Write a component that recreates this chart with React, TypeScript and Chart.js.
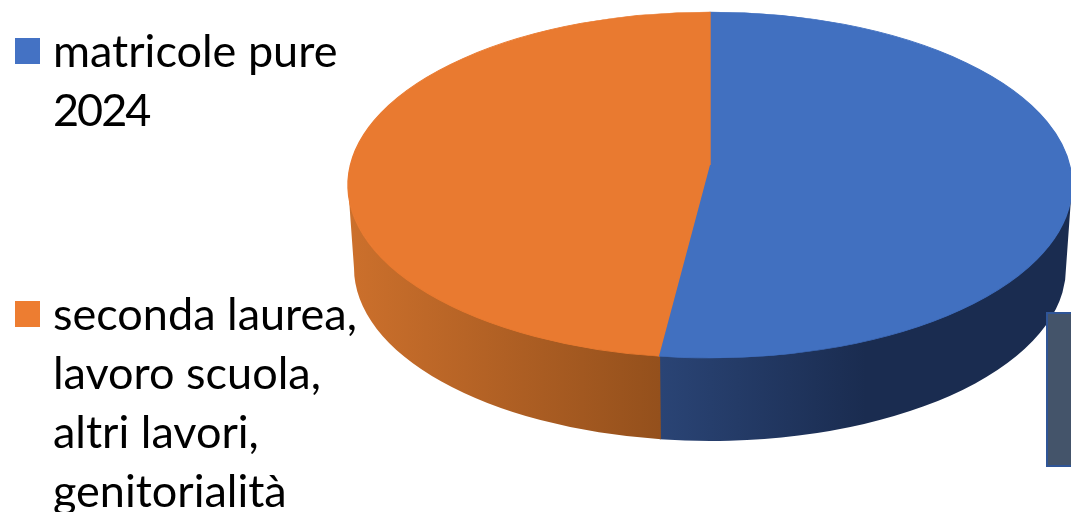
import React, { useEffect, useRef } from "react";
import { Chart, registerables } from "chart.js";

Chart.register(...registerables);

const categories = ["matricole pure 2024", "seconda laurea, lavoro scuola, altri lavori, genitorialità"];
const legendLines = [
  ["matricole pure", "2024"],
  ["seconda laurea,", "lavoro scuola,", "altri lavori,", "genitorialità"],
];
const values = [52.25, 47.75];
const topColors = ["#4170C0", "#E97A30"];
const wallStops = [
  [[0, "#2A4475"], [0.5, "#1A2C50"], [1, "#1A2C50"]],
  [[0, "#CC702C"], [1, "#94501C"]],
];
const legendTops = [21, 284];
const legendBoxTops = [38, 301];

const PIE = { cx: 710, cy: 185, rx: 362, ry: 173, wallDrop: 83, wallRx: 356, shift: 20 };

const piePlugin = {
  id: "tiltedPie",
  beforeDatasetsDraw(chart: any) {
    const ctx = chart.ctx;
    const arcs = chart.getDatasetMeta(0).data;
    const { cx, cy, rx, ry, wallDrop, wallRx } = PIE;
    const split = arcs[0].endAngle % (Math.PI * 2);
    const ranges = [[0, split, 660, 1071], [split - 0.003, Math.PI, 348, 660]];
    ranges.forEach(([a, b, x0, x1], i) => {
      const g = ctx.createLinearGradient(x0, 0, x1, 0);
      wallStops[i].forEach(([p, c]: any) => g.addColorStop(p, c));
      ctx.beginPath();
      // the wall's upper edge runs a little under the top face so no light seam shows
      ctx.ellipse(cx, cy, rx, ry - 2, 0, a, b, false);
      ctx.ellipse(cx, cy + wallDrop, wallRx, ry, 0, b, a, true);
      ctx.closePath();
      ctx.fillStyle = g;
      ctx.fill();
    });
    const el = arcs[0];
    ctx.save();
    ctx.translate(cx, cy);
    ctx.scale(rx / el.outerRadius, ry / el.outerRadius);
    ctx.translate(-el.x, -el.y);
  },
  afterDatasetsDraw(chart: any) {
    const ctx = chart.ctx;
    ctx.restore();
    // perspective: the apex of the slices sits above the ellipse's middle
    const { cx, cy, rx, ry, shift } = PIE;
    const end = chart.getDatasetMeta(0).data[0].endAngle;
    ctx.beginPath();
    ctx.moveTo(cx, cy - shift);
    ctx.lineTo(cx + rx * Math.cos(end), cy + ry * Math.sin(end));
    ctx.lineTo(cx + 1, cy + ry * Math.sin(end) - 2);
    ctx.lineTo(cx + 1, cy - shift);
    ctx.closePath();
    ctx.fillStyle = topColors[0];
    ctx.fill();
  },
};

export default function App() {
  const ref = useRef<HTMLCanvasElement>(null);
  useEffect(() => {
    const chart = new Chart(ref.current!, {
      type: "pie",
      data: {
        labels: categories,
        datasets: [{ data: values, backgroundColor: topColors, borderColor: topColors, borderWidth: 1, clip: false } as any],
      },
      options: {
        animation: false,
        responsive: false,
        plugins: { legend: { display: false }, tooltip: { enabled: false } },
      },
      plugins: [piePlugin],
    } as any);
    return () => chart.destroy();
  }, []);

  return (
    <div style={{ position: "fixed", left: 0, top: 0, width: 1071, height: 512, overflow: "hidden", background: "#fff" }}>
      <canvas ref={ref} width={1071} height={512} style={{ position: "absolute", left: 0, top: 0 }} />
      {legendLines.map((lines, i) => (
        <React.Fragment key={i}>
          <div style={{ position: "absolute", left: 15, top: legendBoxTops[i], width: 25, height: 26, background: i === 0 ? "#4472C4" : "#ED7D31" }} />
          <div style={{ position: "absolute", left: 53, top: legendTops[i], font: "45px/59px Lato, sans-serif", color: "#000", whiteSpace: "nowrap" }}>
            {lines.map((l, j) => (
              <div key={j} style={{ letterSpacing: /^\d+$/.test(l) ? -2 : 0 }}>{l}</div>
            ))}
          </div>
        </React.Fragment>
      ))}
      <div style={{ position: "absolute", left: 1046, top: 312, width: 40, height: 155, boxSizing: "border-box", background: "#44546A", border: "2px solid #2F5597" }} />
    </div>
  );
}
